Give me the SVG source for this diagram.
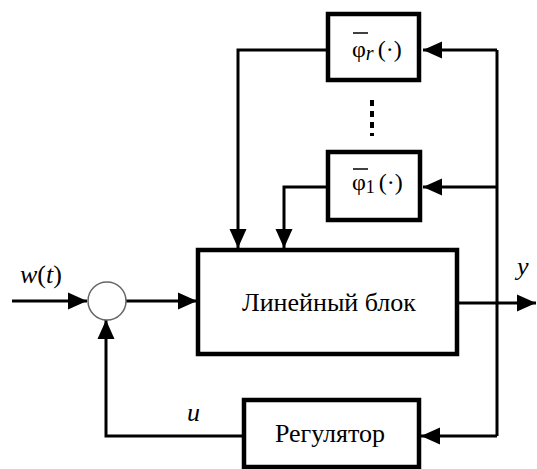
<svg xmlns="http://www.w3.org/2000/svg" width="537" height="469" viewBox="0 0 537 469">
<style>
.box{fill:#fff;stroke:#000;stroke-width:4.5}
.ln{fill:none;stroke:#000;stroke-width:3}
.t{font-family:"Liberation Serif","Times New Roman","DejaVu Serif",Times,serif;fill:#000}
.lbl{font-size:26px}
.it{font-style:italic}
</style>
<defs>
<marker id="ah" markerUnits="userSpaceOnUse" markerWidth="20" markerHeight="20" refX="19" refY="10" orient="auto">
<path d="M0,1.5 L19,10 L0,18.5 Z" fill="#000"/>
</marker>
</defs>
<rect width="537" height="469" fill="#fff"/>
<g id="connectors">
<path class="ln" d="M12,301 H87" marker-end="url(#ah)"/>
<path class="ln" d="M126,301 H197" marker-end="url(#ah)"/>
<path class="ln" d="M458,303 H536" marker-end="url(#ah)"/>
<path class="ln" d="M497,50 V436"/>
<path class="ln" d="M497,50 H423" marker-end="url(#ah)"/>
<path class="ln" d="M497,187 H423" marker-end="url(#ah)"/>
<path class="ln" d="M497,436 H421" marker-end="url(#ah)"/>
<path class="ln" d="M328,50 H238 V248" marker-end="url(#ah)"/>
<path class="ln" d="M328,187 H284 V248" marker-end="url(#ah)"/>
<path class="ln" d="M242,436 H106 V320" marker-end="url(#ah)"/>
<path d="M372,100 V136" fill="none" stroke="#000" stroke-width="4" stroke-dasharray="6,5"/>
</g>
<g id="sum">
<circle cx="107" cy="301" r="19" fill="#fff" stroke="#666" stroke-width="1.5"/>
</g>
<g id="phi_r">
<rect class="box" x="328" y="14" width="91" height="66"/>
<line x1="353" y1="33" x2="368" y2="33" stroke="#000" stroke-width="1.5"/>
<text class="t" x="352" y="57" font-size="24">φ<tspan class="it" font-size="20" dy="3">r</tspan><tspan dy="-3" dx="4">(·)</tspan></text>
</g>
<g id="phi_1">
<rect class="box" x="328" y="152" width="92" height="68"/>
<line x1="353" y1="169" x2="368" y2="169" stroke="#000" stroke-width="1.5"/>
<text class="t" x="352" y="190" font-size="24">φ<tspan font-size="18" dy="3">1</tspan><tspan dy="-3" dx="4">(·)</tspan></text>
</g>
<g id="linear">
<rect class="box" x="198" y="250" width="259" height="104"/>
<text class="t lbl" x="329" y="311" text-anchor="middle">Линейный блок</text>
</g>
<g id="regulator">
<rect class="box" x="244" y="400" width="175" height="67"/>
<text class="t lbl" x="330" y="442" text-anchor="middle">Регулятор</text>
</g>
<g id="labels">
<text class="t lbl" x="20" y="283"><tspan class="it">w</tspan>(<tspan class="it">t</tspan>)</text>
<text class="t lbl it" x="517" y="275">y</text>
<text class="t lbl it" x="187" y="421">u</text>
</g>
</svg>
